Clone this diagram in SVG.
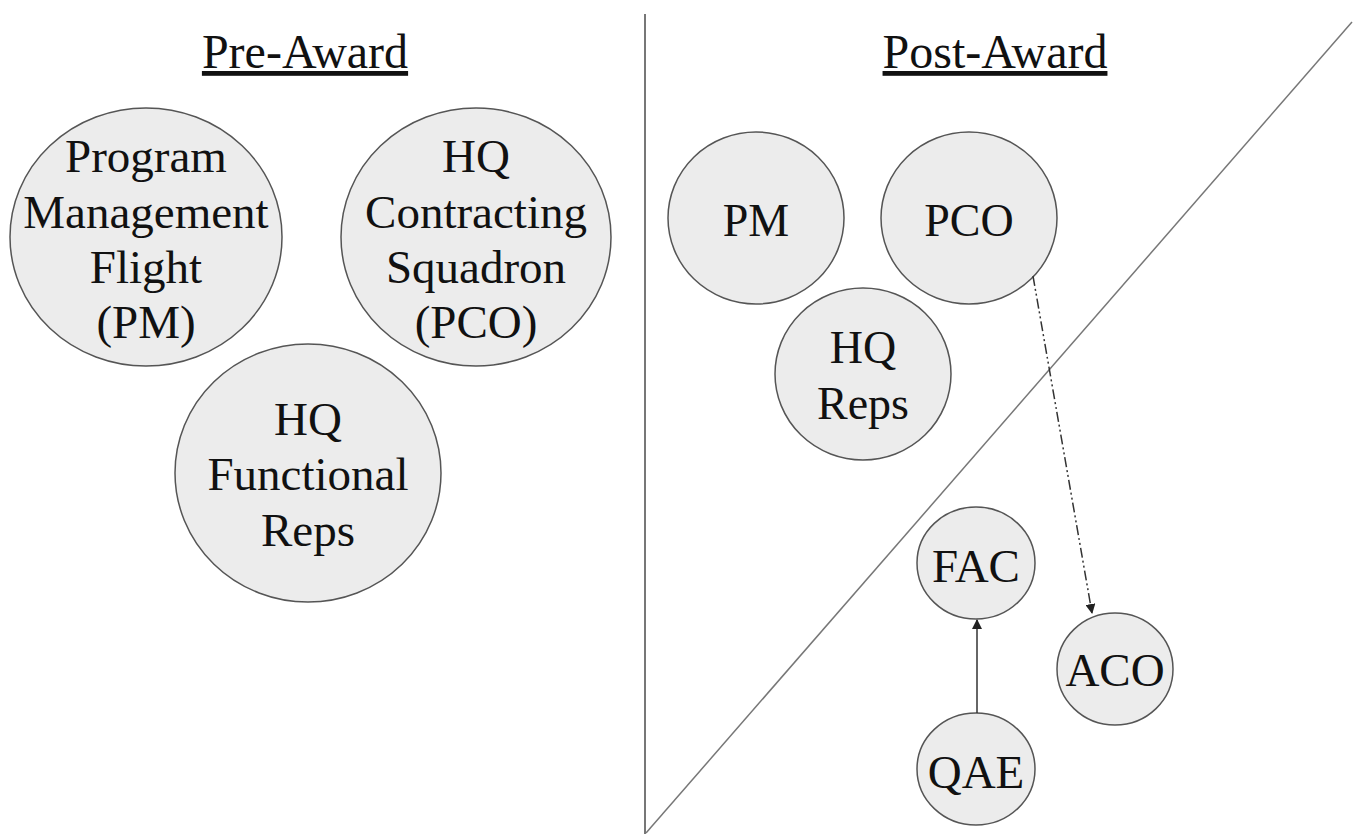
<svg xmlns="http://www.w3.org/2000/svg" width="1357" height="834" viewBox="0 0 1357 834">
<style>
.n{fill:#ececec;stroke:#555;stroke-width:1.5}
.t{font-family:'Liberation Serif','Times New Roman',serif;font-size:47px;fill:#111;text-anchor:middle}
.s{font-size:46px}
.h{font-family:'Liberation Serif','Times New Roman',serif;font-size:48px;fill:#111;text-anchor:middle;text-decoration:underline}
.sep{stroke:#777;stroke-width:2;fill:none}
.c{stroke:#333;stroke-width:1.5;fill:none}
</style>
<defs>
<marker id="ah" viewBox="0 0 10 10" refX="9" refY="5" markerWidth="10" markerHeight="10" markerUnits="userSpaceOnUse" orient="auto">
<path d="M0,0 L10,5 L0,10 z" fill="#222"/>
</marker>
</defs>
<rect width="1357" height="834" fill="#fff"/>
<g id="dividers">
<line class="sep" x1="645" y1="14" x2="645" y2="834"/>
<line class="sep" x1="646" y1="833" x2="1352" y2="22" style="stroke-width:1.5"/>
</g>
<g id="titles">
<text class="h" x="305" y="68">Pre-Award</text>
<text class="h" x="995" y="68">Post-Award</text>
</g>
<g id="pre-pm">
<ellipse class="n" cx="146" cy="237" rx="136" ry="129"/>
<text class="t" x="146" y="172">Program</text>
<text class="t" x="146" y="228">Management</text>
<text class="t" x="146" y="283">Flight</text>
<text class="t" x="146" y="338">(PM)</text>
</g>
<g id="pre-pco">
<ellipse class="n" cx="476" cy="237" rx="135" ry="129"/>
<text class="t" x="476" y="172">HQ</text>
<text class="t" x="476" y="228">Contracting</text>
<text class="t" x="476" y="283">Squadron</text>
<text class="t" x="476" y="338">(PCO)</text>
</g>
<g id="pre-hq">
<ellipse class="n" cx="308" cy="473" rx="133" ry="129"/>
<text class="t" x="308" y="435">HQ</text>
<text class="t" x="308" y="490">Functional</text>
<text class="t" x="308" y="546">Reps</text>
</g>
<g id="post-pm">
<ellipse class="n" cx="756" cy="218" rx="88" ry="86"/>
<text class="t s" x="756" y="236">PM</text>
</g>
<g id="post-pco">
<ellipse class="n" cx="969" cy="218" rx="88" ry="86"/>
<text class="t s" x="969" y="236">PCO</text>
</g>
<g id="post-hq">
<ellipse class="n" cx="863" cy="374" rx="88" ry="86"/>
<text class="t s" x="863" y="363">HQ</text>
<text class="t s" x="863" y="419">Reps</text>
</g>
<g id="fac">
<ellipse class="n" cx="976" cy="563" rx="59" ry="56"/>
<text class="t" x="976" y="582">FAC</text>
</g>
<g id="aco">
<ellipse class="n" cx="1115" cy="669" rx="58" ry="56"/>
<text class="t" x="1115" y="686">ACO</text>
</g>
<g id="qae">
<ellipse class="n" cx="976" cy="769" rx="59" ry="56"/>
<text class="t" x="976" y="788">QAE</text>
</g>
<g id="connectors">
<line class="c" x1="977" y1="713" x2="977" y2="620" marker-end="url(#ah)"/>
<line class="c" x1="1033" y1="276" x2="1092" y2="613" stroke-dasharray="10,3,2,3,2,3" marker-end="url(#ah)"/>
</g>
</svg>
